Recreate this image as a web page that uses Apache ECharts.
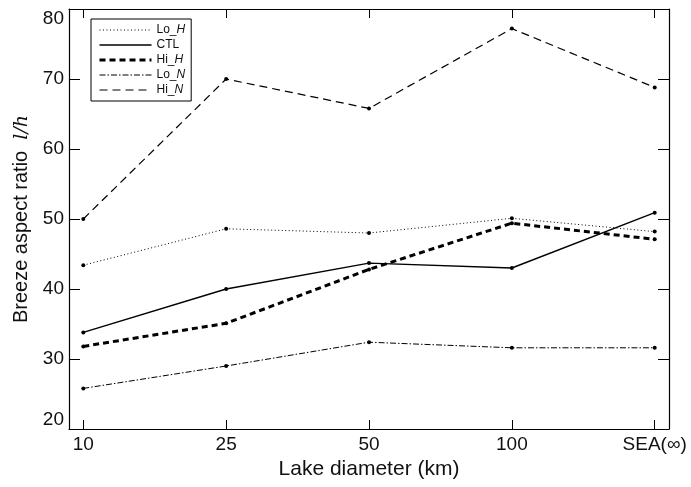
<!DOCTYPE html>
<html>
<head>
<meta charset="utf-8">
<script src="https://cdn.jsdelivr.net/npm/echarts@6/dist/echarts.min.js"></script>
<style>
  html, body { margin: 0; padding: 0; background: #fff; }
  #chart { width: 691px; height: 487px; }
</style>
</head>
<body>
<div id="chart"></div>
<script>
// 数据
var categories = ['10', '25', '50', '100', 'SEA(∞)']
var loH = [43.4, 48.6, 48.0, 50.1, 48.2]
var ctl = [33.8, 40.0, 43.7, 43.0, 50.9]
var hiH = [31.8, 35.1, 42.8, 49.4, 47.1]
var loN = [25.8, 29.0, 32.4, 31.6, 31.6]
var hiN = [50.0, 70.0, 65.8, 77.2, 68.8]

var tickPos = categories.map(function (c, i) { return i })

// 线型
var styles = {
  Lo_H: { type: [1, 2.5], width: 1 },
  CTL: { type: 'solid', width: 1.4 },
  Hi_H: { type: [6, 4], width: 3 },
  Lo_N: { type: [6, 2, 1.5, 2], width: 1 },
  Hi_N: { type: [8, 5], width: 1.2 }
}

function pts (arr) {
  return arr.map(function (v, i) { return [i, v] })
}

function makeSeries (name, data) {
  return {
    name: name,
    type: 'line',
    data: pts(data),
    symbol: 'circle',
    symbolSize: 4,
    itemStyle: { color: '#000' },
    lineStyle: Object.assign({ color: '#000' }, styles[name]),
    z: 3
  }
}

var font = 'Liberation Sans, Arial, sans-serif'
var axisText = { color: '#111', fontSize: 19, fontFamily: font }
var black = { color: '#000', width: 1.2 }

var chart = echarts.init(document.getElementById('chart'))

chart.setOption({
  animation: false,
  grid: { left: 69, right: 22, top: 9, bottom: 58 },
  legend: {
    orient: 'vertical',
    left: 91,
    top: 19,
    width: 105,
    padding: [5, 6, 5, 7],
    itemGap: 3,
    itemWidth: 52,
    itemHeight: 12,
    borderColor: '#000',
    borderWidth: 1,
    backgroundColor: '#fff',
    itemStyle: { opacity: 0 },
    textStyle: {
      color: '#111',
      fontSize: 12,
      fontFamily: font,
      rich: {
        i: { fontStyle: 'italic', fontSize: 12, color: '#111', fontFamily: font }
      }
    },
    formatter: function (name) {
      var p = name.split('_')
      if (p.length === 2) return p[0] + '_{i|' + p[1] + '}'
      return name
    },
    data: ['Lo_H', 'CTL', 'Hi_H', 'Lo_N', 'Hi_N'].map(function (n) {
      return { name: n, lineStyle: Object.assign({ color: '#000' }, styles[n]) }
    })
  },
  xAxis: [{
    type: 'value',
    min: -0.1,
    max: 4.1,
    name: 'Lake diameter (km)',
    nameLocation: 'middle',
    nameGap: 30,
    nameTextStyle: { color: '#111', fontSize: 21, fontFamily: font },
    splitLine: { show: false },
    axisLine: { show: true, onZero: false, lineStyle: black },
    axisTick: { inside: true, length: 9, customValues: tickPos, lineStyle: { color: '#000' } },
    axisLabel: Object.assign({
      customValues: tickPos,
      margin: 6,
      formatter: function (v) { return categories[Math.round(v)] }
    }, axisText)
  }, {
    type: 'value',
    position: 'top',
    min: -0.1,
    max: 4.1,
    splitLine: { show: false },
    axisLine: { show: true, onZero: false, lineStyle: black },
    axisTick: { inside: true, length: 9, customValues: tickPos, lineStyle: { color: '#000' } },
    axisLabel: { show: false }
  }],
  yAxis: [{
    type: 'value',
    min: 20,
    max: 80,
    interval: 10,
    name: 'Breeze aspect ratio  {i|l/h}',
    nameLocation: 'middle',
    nameGap: 35,
    nameTextStyle: {
      color: '#111', fontSize: 20, fontFamily: font,
      rich: { i: { fontStyle: 'italic', fontFamily: 'DejaVu Serif, serif', fontSize: 19, color: '#111' } }
    },
    splitLine: { show: false },
    axisLine: { show: true, onZero: false, lineStyle: black },
    axisTick: { inside: true, length: 11, lineStyle: { color: '#000' } },
    axisLabel: Object.assign({
      margin: 5,
      verticalAlignMaxLabel: 'top',
      verticalAlignMinLabel: 'bottom'
    }, axisText)
  }, {
    type: 'value',
    position: 'right',
    min: 20,
    max: 80,
    interval: 10,
    splitLine: { show: false },
    axisLine: { show: true, onZero: false, lineStyle: black },
    axisTick: { inside: true, length: 11, lineStyle: { color: '#000' } },
    axisLabel: { show: false }
  }],
  series: [
    makeSeries('Lo_H', loH),
    makeSeries('CTL', ctl),
    makeSeries('Hi_H', hiH),
    makeSeries('Lo_N', loN),
    makeSeries('Hi_N', hiN)
  ]
})
</script>
</body>
</html>
